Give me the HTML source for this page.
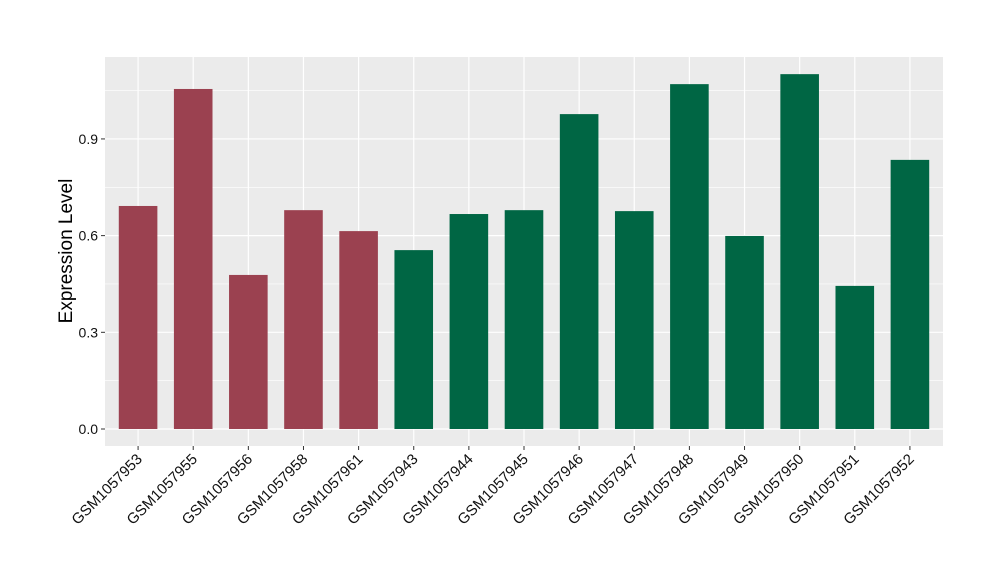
<!DOCTYPE html>
<html><head><meta charset="utf-8"><style>
body{margin:0;background:#fff;}
text{font-family:"Liberation Sans",Arial,sans-serif;}
</style></head><body>
<svg id="chart" width="1000" height="580" xmlns="http://www.w3.org/2000/svg">
<rect x="105" y="57" width="838" height="389" fill="#EBEBEB"/>
<g id="grid"></g><g id="bars"></g><g id="axes"></g>
<text transform="translate(72,251) rotate(-90)" text-anchor="middle" font-size="19" fill="#000">Expression Level</text>
</svg>
<script>
const categories=["GSM1057953","GSM1057955","GSM1057956","GSM1057958","GSM1057961","GSM1057943","GSM1057944","GSM1057945","GSM1057946","GSM1057947","GSM1057948","GSM1057949","GSM1057950","GSM1057951","GSM1057952"];
const values=[0.692,1.055,0.478,0.679,0.614,0.555,0.667,0.679,0.977,0.676,1.070,0.599,1.101,0.444,0.835];
const groups=["a","a","a","a","a","b","b","b","b","b","b","b","b","b","b"];
const yTicks=[0,0.3,0.6,0.9];
const yTickLabels=["0.0","0.3","0.6","0.9"];
const colors={a:"#9B4150",b:"#006644"};
const NS="http://www.w3.org/2000/svg";
const pL=105,pR=943,pT=57,pB=446;
const step=(pR-pL)/(categories.length-1+1.2);
const x=i=>pL+(0.6+i)*step;
const y=v=>429-v*322.3;
function mk(tag,attrs,parent){const e=document.createElementNS(NS,tag);for(const k in attrs)e.setAttribute(k,attrs[k]);parent.appendChild(e);return e;}
const grid=document.getElementById('grid'),bars=document.getElementById('bars'),axes=document.getElementById('axes');
for(let k=0;k<yTicks.length-1;k++){const m=(yTicks[k]+yTicks[k+1])/2;
const l=mk('line',{x1:pL,x2:pR,y1:y(m),y2:y(m),stroke:'#fff','stroke-width':0.6},grid);

}
{const m=yTicks[yTicks.length-1]+0.15;const l=mk('line',{x1:pL,x2:pR,y1:y(m),y2:y(m),stroke:'#fff','stroke-width':0.6},grid);

}
yTicks.forEach((t,i)=>{
const l=mk('line',{x1:pL,x2:pR,y1:y(t),y2:y(t),stroke:'#fff','stroke-width':1.2},grid);


const tk=mk('line',{x1:pL-4,x2:pL,y1:y(t),y2:y(t),stroke:'#333','stroke-width':1},axes);


const tx=mk('text',{x:pL-7,y:y(t)+5,'text-anchor':'end','font-size':14,fill:'#111'},axes);
tx.textContent=yTickLabels[i];


});
categories.forEach((c,i)=>{
const cx=x(i);
const g=mk('line',{x1:cx,x2:cx,y1:pT,y2:pB,stroke:'#fff','stroke-width':1.2},grid);


const w=0.7*step;
const b=mk('rect',{x:cx-w/2,y:y(values[i]),width:w,height:y(0)-y(values[i]),fill:colors[groups[i]]},bars);


const tk=mk('line',{x1:cx,x2:cx,y1:pB,y2:pB+4,stroke:'#333','stroke-width':1},axes);


const tx=mk('text',{transform:`translate(${cx+5},${pB+14}) rotate(-45)`,'text-anchor':'end','font-size':15,fill:'#111'},axes);
tx.textContent=c;


});
</script>
</body></html>
